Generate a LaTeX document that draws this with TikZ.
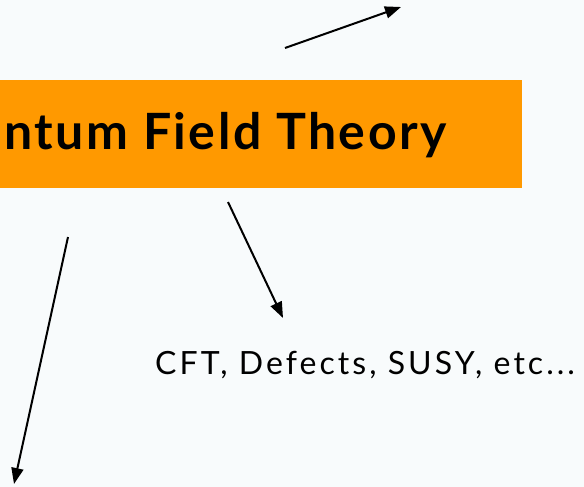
\documentclass[tikz,border=0pt]{standalone}
\usepackage{fontspec}
\setmainfont{Lato}
\newfontfamily\headfont{Lato}[LetterSpace=5]
\newfontfamily\topicfont{Lato}[LetterSpace=9.5]
\usetikzlibrary{arrows.meta, positioning}
\definecolor{slideorange}{HTML}{FF9900}
\definecolor{slidebg}{HTML}{F8FBFC}

\begin{document}
\begin{tikzpicture}[x=1pt, y=-1pt]
    \tikzstyle{banner} = [rectangle, fill=slideorange, minimum width=522pt, minimum height=108pt, inner sep=0pt, anchor=north west]
    \tikzstyle{heading} = [inner sep=0pt, anchor=base east, font=\headfont\fontsize{50}{60}\selectfont\bfseries]
    \tikzstyle{topic} = [inner sep=0pt, anchor=base west, font=\topicfont\fontsize{32}{38}\selectfont]
    \tikzstyle{line} = [draw, -{Triangle[length=16pt, width=12pt]}, line width=2pt]

    \useasboundingbox (0,0) rectangle (584,487);
    \fill [slidebg] (0,0) rectangle (584,487);

    \node [banner] (qft) at (0,80) {};
    \node [heading] (title) at (447,149) {ntum Field Theory};
    \node [topic] (topics) at (155,374) {CFT, Defects, SUSY, etc...};

    % free ends of the arrows
    \coordinate (upfrom) at (285,48);
    \coordinate (upto) at (401,7);
    \coordinate (midfrom) at (228,202);
    \coordinate (midto) at (283,318);
    \coordinate (leftfrom) at (68,237);
    \coordinate (leftto) at (14,484);

    \path [line] (upfrom) -- (upto);
    \path [line] (midfrom) -- (midto);
    \path [line] (leftfrom) -- (leftto);
\end{tikzpicture}
\end{document}
